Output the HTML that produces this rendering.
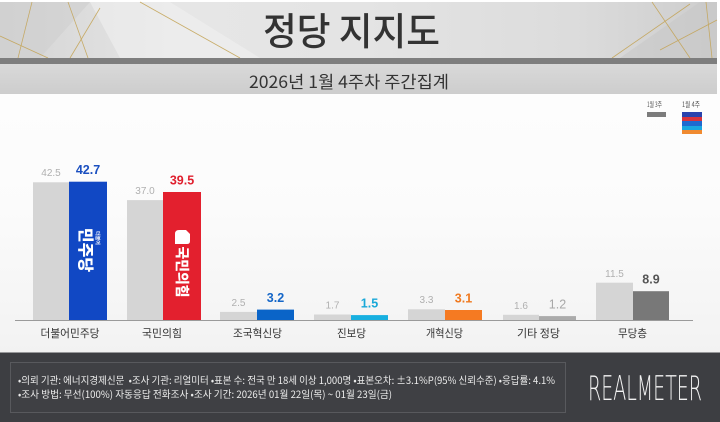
<!DOCTYPE html>
<html><head><meta charset="utf-8"><style>
html,body{margin:0;padding:0;background:#fff;}
svg{display:block;}
text{font-family:"Liberation Sans","Noto Sans CJK KR",sans-serif;}
.k{font-family:"Noto Sans CJK KR","Liberation Sans",sans-serif;}
</style></head><body>
<svg width="720" height="422" viewBox="0 0 720 422" xmlns="http://www.w3.org/2000/svg">
<defs>
<linearGradient id="hd" x1="0" y1="0" x2="1" y2="0">
<stop offset="0" stop-color="#d4d4d4"/><stop offset="0.25" stop-color="#e6e6e6"/>
<stop offset="0.5" stop-color="#e4e4e4"/><stop offset="0.8" stop-color="#dcdcdc"/><stop offset="1" stop-color="#cdcdcd"/>
</linearGradient>
<linearGradient id="bg" x1="0" y1="0" x2="0" y2="1">
<stop offset="0" stop-color="#ffffff"/><stop offset="0.5" stop-color="#fbfbfb"/><stop offset="1" stop-color="#eeeeee"/>
</linearGradient>
<linearGradient id="sb" x1="0" y1="0" x2="0" y2="1">
<stop offset="0" stop-color="#d9d9d9"/><stop offset="1" stop-color="#cdcdcd"/>
</linearGradient>
</defs>
<rect x="0" y="0" width="720" height="422" fill="url(#bg)"/>
<rect x="0" y="2" width="717" height="56" fill="url(#hd)"/>
<polygon points="0,2 90,2 40,58 0,58" fill="#cfcfcf" opacity="0.6"/>
<polygon points="90,2 170,2 260,58 120,58" fill="#f0f0f0" opacity="0.6"/>
<polygon points="620,58 700,2 717,2 717,58" fill="#c8c8c8" opacity="0.6"/>
<g stroke="#c4a55a" stroke-width="0.8" fill="none" opacity="0.9">
<line x1="32" y1="2" x2="18" y2="58"/>
<line x1="68" y1="2" x2="88" y2="58"/>
<line x1="0" y1="36" x2="48" y2="58"/>
<line x1="100" y1="8" x2="70" y2="58"/>
<line x1="140" y1="2" x2="240" y2="58"/>
<line x1="612" y1="58" x2="690" y2="4"/>
<line x1="652" y1="2" x2="690" y2="58"/>
<line x1="706" y1="2" x2="712" y2="58"/>
<line x1="660" y1="50" x2="717" y2="20"/>
</g>
<rect x="0" y="58" width="717" height="6" fill="#7e7e7e"/>
<rect x="0" y="64" width="717" height="30" fill="url(#sb)"/>
<text class="k" x="263" y="45" font-size="38" font-weight="500" fill="#333" textLength="177" lengthAdjust="spacingAndGlyphs">정당 지지도</text>
<text class="k" x="249" y="88" font-size="17" fill="#333" textLength="200" lengthAdjust="spacingAndGlyphs">2026년 1월 4주차 주간집계</text>

<text class="k" x="647" y="107" font-size="7.5" fill="#555" textLength="15" lengthAdjust="spacingAndGlyphs">1월 3주</text>
<rect x="647" y="112" width="19" height="5" fill="#7c7c7c"/>
<text class="k" x="682" y="107" font-size="7.5" fill="#555" textLength="18" lengthAdjust="spacingAndGlyphs">1월 4주</text>
<rect x="682" y="112" width="20" height="5" fill="#2a43ad"/>
<rect x="682" y="117" width="20" height="4" fill="#d8343c"/>
<rect x="682" y="121" width="20" height="5" fill="#1e6ad0"/>
<rect x="682" y="126" width="20" height="4" fill="#1aa8e0"/>
<rect x="682" y="130" width="20" height="4" fill="#f08a30"/>

<line x1="15" y1="320.5" x2="693" y2="320.5" stroke="#9a9a9a" stroke-width="1"/>

<g>
<rect x="33" y="182.3" width="36" height="137.7" fill="#d5d5d5"/>
<rect x="69" y="181.7" width="38" height="138.3" fill="#1148c4"/>
<rect x="127" y="200.1" width="36" height="119.9" fill="#d5d5d5"/>
<rect x="163" y="192" width="38" height="128" fill="#e3202e"/>
<rect x="220" y="311.9" width="37" height="8.1" fill="#d5d5d5"/>
<rect x="257" y="309.6" width="37" height="10.4" fill="#0a64c8"/>
<rect x="314" y="314.5" width="37" height="5.5" fill="#d5d5d5"/>
<rect x="351" y="315.1" width="37" height="4.9" fill="#18b0e0"/>
<rect x="408" y="309.3" width="37" height="10.7" fill="#d5d5d5"/>
<rect x="445" y="310" width="37" height="10" fill="#f57a22"/>
<rect x="503" y="314.8" width="36" height="5.2" fill="#d5d5d5"/>
<rect x="539" y="316.1" width="37" height="3.9" fill="#ababab"/>
<rect x="596" y="282.7" width="37" height="37.3" fill="#d5d5d5"/>
<rect x="633" y="291.2" width="36" height="28.8" fill="#787878"/>
</g>

<text class="k" transform="translate(80,250) rotate(90)" x="0" y="0" text-anchor="middle" font-size="16" font-weight="900" fill="#fff">민주당</text>
<text class="k" transform="translate(96,238) rotate(90)" x="0" y="0" text-anchor="middle" font-size="5" font-weight="700" fill="#fff">더불어</text>
<path d="M175,234 Q175,230 179,230 L186,230 L190,234 L190,241 Q190,244 187,244 L175,244 Z" fill="#fff"/>
<text class="k" transform="translate(177,272) rotate(90)" x="0" y="0" text-anchor="middle" font-size="14" font-weight="900" fill="#fff" textLength="51" lengthAdjust="spacingAndGlyphs">국민의힘</text>

<g font-size="10" fill="#b0b0b0" text-anchor="middle">
<text x="51" y="176">42.5</text>
<text x="145" y="194">37.0</text>
<text x="238.5" y="306">2.5</text>
<text x="332.5" y="308.5">1.7</text>
<text x="426.5" y="303">3.3</text>
<text x="521" y="309">1.6</text>
<text x="614.5" y="277">11.5</text>
</g>
<g font-size="12.5" font-weight="700" text-anchor="middle">
<text x="88" y="174" fill="#1a4fc0">42.7</text>
<text x="182" y="184.5" fill="#e0202e">39.5</text>
<text x="275.5" y="302" fill="#1466c8">3.2</text>
<text x="369.5" y="307.5" fill="#19a8d8">1.5</text>
<text x="463.5" y="302.5" fill="#f07a20">3.1</text>
<text x="557.5" y="308.5" fill="#a8a8a8" font-weight="400">1.2</text>
<text x="651" y="283.5" fill="#555">8.9</text>
</g>

<g class="k" font-size="11" fill="#333" text-anchor="middle">
<text class="k" x="70" y="337" textLength="59" lengthAdjust="spacingAndGlyphs">더불어민주당</text>
<text class="k" x="162" y="337" textLength="40" lengthAdjust="spacingAndGlyphs">국민의힘</text>
<text class="k" x="257.5" y="337" textLength="49" lengthAdjust="spacingAndGlyphs">조국혁신당</text>
<text class="k" x="351.5" y="337" textLength="29" lengthAdjust="spacingAndGlyphs">진보당</text>
<text class="k" x="444.5" y="337" textLength="37" lengthAdjust="spacingAndGlyphs">개혁신당</text>
<text class="k" x="538.5" y="337" textLength="43" lengthAdjust="spacingAndGlyphs">기타 정당</text>
<text class="k" x="632.5" y="337" textLength="29" lengthAdjust="spacingAndGlyphs">무당층</text>
</g>

<rect x="0" y="352.5" width="720" height="70" fill="#3d3e42"/>
<rect x="10.5" y="362.5" width="555" height="50" fill="#3f4044" stroke="#58595d" stroke-width="1"/>
<text class="k" x="18" y="384" font-size="10" fill="#ececec" textLength="537" lengthAdjust="spacingAndGlyphs">•의뢰 기관: 에너지경제신문 &#160;•조사 기관: 리얼미터 •표본 수: 전국 만 18세 이상 1,000명 •표본오차: ±3.1%P(95% 신뢰수준) •응답률: 4.1%</text>
<text class="k" x="18" y="398" font-size="10" fill="#ececec" textLength="374" lengthAdjust="spacingAndGlyphs">•조사 방법: 무선(100%) 자동응답 전화조사 •조사 기간: 2026년 01월 22일(목) ~ 01월 23일(금)</text>
<text x="588" y="400" font-size="34" font-weight="200" fill="#f2f2f2" style="font-family:'DejaVu Sans','Liberation Sans',sans-serif;font-weight:200" textLength="114" lengthAdjust="spacingAndGlyphs">REALMETER</text>
</svg>
</body></html>
